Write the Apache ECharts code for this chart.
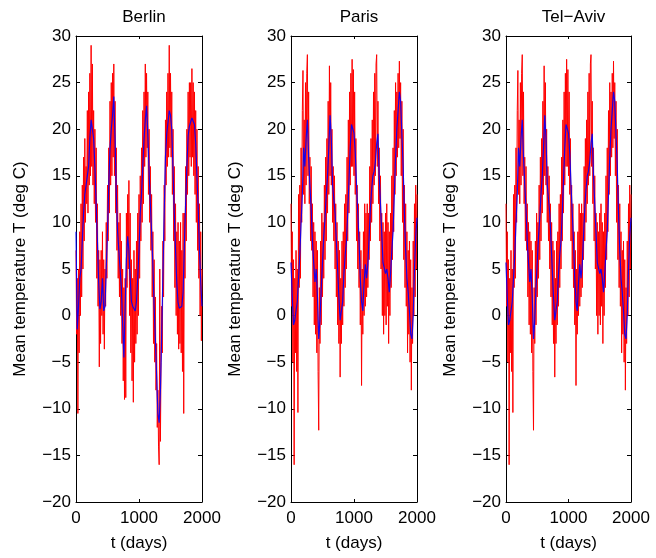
<!DOCTYPE html>
<html><head><meta charset="utf-8">
<script src="https://cdn.jsdelivr.net/npm/echarts@6/dist/echarts.min.js"></script>
<style>html,body{margin:0;padding:0;background:#fff}#c{width:656px;height:558px}</style>
</head><body><div id="c"></div>
<script>
// ---- data ----
const cityNames = ['Berlin', 'Paris', 'Tel\u2212Aviv'];
const xTickValues = [0, 1000, 2000];
const yTickValues = [-20, -15, -10, -5, 0, 5, 10, 15, 20, 25, 30];
const blueStepDays = 20;
const redStepDays = 10;

const berlinBlue = [9,-1.5,1,4,5,8,11,13,14,15,
  16,19,21,21,19,16,12,8,3.5,0.7,
  1.5,4,0.5,1,5,9,14,18,20,21.5,
  23.5,19,13,9,7,5,3,-1,-4.5,1,
  6,8.5,7,4,1.5,1,1.2,0.5,1.5,4,
  7,11,13,16,19,21,22.5,19.5,15.5,12,
  9,5.5,1,-2.5,-6.5,-10.5,-11.5,-8,-2,4.5,
  11,17,19.5,20.7,22,21.5,20,15.7,11,7,
  3.5,1.4,0.8,0.7,1,2.5,7.5,12,16,19.3,
  20.3,20.8,21.2,21.4,20.5,18.5,15,11.5,7,3.5,
  1];

const berlinRed = [7,-2,4,-10.5,5,-4,9,0,12,2,
  14,5,17,8,19,10,16,12,22,11,
  24,14,26,15,29,16,27,14,22,12,
  20,10,18,4,12,1,7,-5.5,6,-3,
  7,0,9,-2,6,-3.6,5,1,10,4,
  14,8,18,11,23,14,25,15,26,17,
  27,15,23,11,18,7,14,4,10,2,
  11,0,8,-3,5,-7,3,-9,4,-8.8,
  11,3,13,5,14.5,0,11,-4,6,-7,
  4,-9.3,7,-5,5,-3,8,-2,11,0,
  13,4,15,8,18,10,22,12,24,16,
  27,17,26,18,24,13,20,10,16,7,
  13,2,9,-3,6,-5,2,-8,-3,-12,
  -8,-14,-16,5,-13.5,-5,1,-4,8,2,
  14,8,21,14,24,16,26,17,29,18,
  26,17,24,13,20,8,16,3,12,0,
  9,-2,10,-3.6,8,-3,10,-4,7,-6,
  11,-10.5,11,4,16,8,20,13,24,15,
  25,17,25,16,26.5,17,25,15,24,13,
  22,10,20,7,16,4,12,0,9,-2.7,
  5];

const parisBlue = [5.7,2,-1,-0.5,0.5,1.5,4,6.5,10,13,
  18,16,19,21,17,14,11.5,8,5.7,3.6,
  5,2,-2.5,-0.5,3,5.7,8.5,10.5,13,15,
  18,21.5,19,14,12.5,11,8,5,2,-0.5,
  -0.7,1.5,4.5,6.5,8,11,14.5,18,20.5,20.7,
  19.6,17.5,14,11,8,4,1.5,0.5,3.5,5.5,
  4,5.5,8.5,11.5,13.5,15,15.5,16.5,18.5,19.5,
  15,12,9,5.7,5.5,4.5,5,4,2.5,4.5,
  7,9,13,17,20,22,24,23,19.5,16,
  11,7,4,2.5,0.5,-2,-2.5,0,5,8.5,
  10.5];

const parisRed = [12,1,9,-5,6,-16,4,-4,7,-6,
  5,-10.4,13,3,14,4,18,10,22,26.3,
  13,21,12,25,14,26,28,15,24,12,
  17,8,16,7,12,2,10,-1,9,-2,
  8,-4,7,-6,-12.3,3,-3,8,-1,11,
  2,10,4,14,6,17,8,19,11,23,
  13,26.8,15,25,14,20,10,16,8,15,
  5,12,2,10,-1,8,-3,7,-6.6,4,
  -3,8,-1,9,1,12,3,13,5,17,
  8,21,11,24,14,26,16,27.5,16,26.4,
  15,24,13,19,8,14,5,12,3,9,
  -1,7,-7.5,5,-2,9,0,12,1,11,
  2,12,3,11,6,16,8,19,10,21,
  12,24,14,26,15,27,28,16,23,12,
  18,8,15,5,11,0,10,-2,9,0,
  11,-1,12,1,10,-3,9,0,11,3,
  15,6,18,9,22,13,25,15,24,17,
  26,18,27.3,19,25,15,23,10,20,6,
  14,3,12,1,9,-4,7,-2,8,-5,
  6,-8,3,-3,8,0,12,2,14,5,
  13];

// Tel-Aviv panel in the reference shows the same curves as Paris
const telAvivBlue = parisBlue.slice();
const telAvivRed = parisRed.slice();

const panelBlue = [berlinBlue, parisBlue, telAvivBlue];
const panelRed = [berlinRed, parisRed, telAvivRed];

// ---- chart ----
const FONT = 'Liberation Sans';
const gridBoxes = [{left: 76, width: 126}, {left: 291, width: 126}, {left: 506, width: 125}];
const fmt = v => (v < 0 ? '\u2212' + (-v) : String(v));

const grid = [], xAxis = [], yAxis = [], series = [], title = [];
gridBoxes.forEach((g, i) => {
  grid.push({left: g.left, width: g.width, top: 36, height: 466, containLabel: false});
  title.push({text: cityNames[i], left: g.left + g.width / 2, top: 4, textAlign: 'center',
    textStyle: {fontFamily: FONT, fontSize: 17, fontWeight: 'normal', color: '#000'}});
  const xBase = {type: 'value', gridIndex: i, min: 0, max: 2000, interval: 1000,
    splitLine: {show: false}, axisLine: {show: true, onZero: false, lineStyle: {color: '#000', width: 1}},
    axisTick: {show: true, inside: true, length: 3, lineStyle: {color: '#000'}}};
  xAxis.push(Object.assign({}, xBase, {position: 'bottom',
    axisLabel: {show: true, margin: 8, fontFamily: FONT, fontSize: 17, color: '#000', formatter: fmt},
    name: 't (days)', nameLocation: 'middle', nameGap: 33,
    nameTextStyle: {fontFamily: FONT, fontSize: 17, color: '#000'}}));
  xAxis.push(Object.assign({}, xBase, {position: 'top', axisLabel: {show: false}}));
  const yBase = {type: 'value', gridIndex: i, min: -20, max: 30, interval: 5,
    splitLine: {show: false}, axisLine: {show: true, onZero: false, lineStyle: {color: '#000', width: 1}},
    axisTick: {show: true, inside: true, length: 4, lineStyle: {color: '#000'}}};
  yAxis.push(Object.assign({}, yBase, {position: 'left',
    axisLabel: {show: true, margin: 5, fontFamily: FONT, fontSize: 17, color: '#000', formatter: fmt},
    name: 'Mean temperature T (deg C)', nameLocation: 'middle', nameGap: 47, nameRotate: 90,
    nameTextStyle: {fontFamily: FONT, fontSize: 17, color: '#000'}}));
  yAxis.push(Object.assign({}, yBase, {position: 'right', axisLabel: {show: false}}));

  series.push({type: 'line', xAxisIndex: 2 * i, yAxisIndex: 2 * i, symbol: 'none', z: 2,
    lineStyle: {color: '#ff0000', width: 1}, silent: true,
    data: panelRed[i].map((v, k) => [k * redStepDays, v])});
  series.push({type: 'line', xAxisIndex: 2 * i, yAxisIndex: 2 * i, symbol: 'none', z: 3,
    lineStyle: {color: '#0000ff', width: 1.2, opacity: 0.9}, silent: true,
    data: panelBlue[i].map((v, k) => [k * blueStepDays, v])});
});

const chart = echarts.init(document.getElementById('c'), null, {renderer: 'canvas'});
chart.setOption({animation: false, backgroundColor: '#fff',
  textStyle: {fontFamily: FONT}, title, grid, xAxis, yAxis, series});
</script></body></html>
